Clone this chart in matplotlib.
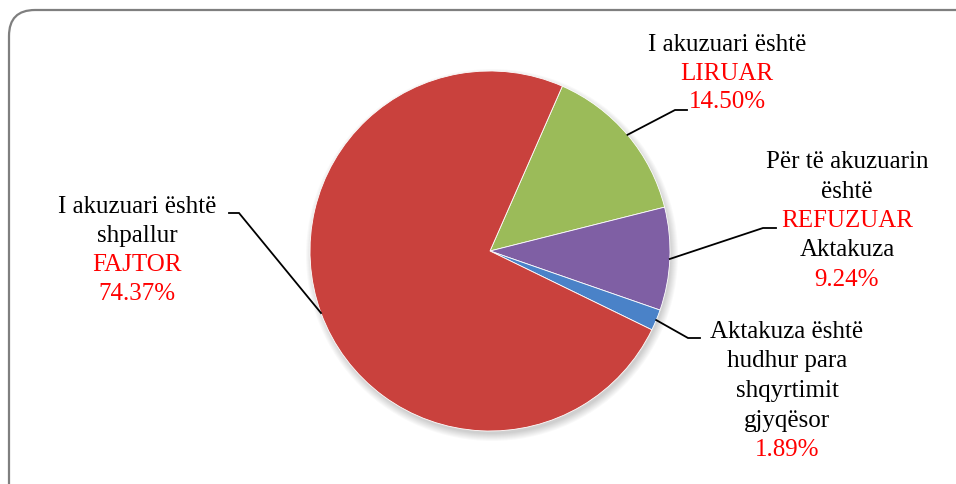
import numpy as np
import matplotlib.pyplot as plt
from matplotlib.patches import FancyBboxPatch, Circle

# Slice data (clockwise from the top-right)
shares = [14.50, 9.24, 1.89, 74.37]
colors = ['#9BBB59', '#7F5FA4', '#4A82C8', '#C9413D']
label_lines = [
    [("I akuzuari është", 'black'), ("LIRUAR", 'red'), ("14.50%", 'red')],
    [("Për të akuzuarin", 'black'), ("është", 'black'), ("REFUZUAR", 'red'),
     ("Aktakuza", 'black'), ("9.24%", 'red')],
    [("Aktakuza është", 'black'), ("hudhur para", 'black'), ("shqyrtimit", 'black'),
     ("gjyqësor", 'black'), ("1.89%", 'red')],
    [("I akuzuari është", 'black'), ("shpallur", 'black'), ("FAJTOR", 'red'),
     ("74.37%", 'red')],
]

W, H = 956, 484
fig = plt.figure(figsize=(W / 100, H / 100), dpi=100)
ax = fig.add_axes([0, 0, 1, 1])

# rounded frame, running off the right and bottom edges
frame = FancyBboxPatch((9, -30), 975, 474 + 30,
                       boxstyle="round,pad=0,rounding_size=26",
                       fc='white', ec='#7f7f7f', lw=1.6, zorder=0)
ax.add_patch(frame)

cx, cy, r = 490, H - 251, 180
start = 66.3

# soft shadow
for k in range(8):
    ax.add_patch(Circle((cx + 2, cy - 4), r + 6 - k, fc='black', alpha=0.025,
                        ec='none', zorder=1))

wedges, _ = ax.pie(shares, colors=colors, startangle=start, counterclock=False,
                   center=(cx, cy), radius=r, frame=True,
                   wedgeprops=dict(ec='white', lw=0.6))
for w in wedges:
    w.set_zorder(2)
ax.set_xlim(0, W)
ax.set_ylim(0, H)
ax.set_aspect('equal')
ax.axis('off')

# label layout: text centre x, first line y (px from top), elbow x pair, elbow y
layout = [
    dict(x=727, y=45, hx=(687, 675), hy=110),
    dict(x=847, y=162, hx=(776, 763), hy=228),
    dict(x=787, y=332, hx=(700, 688), hy=338),
    dict(x=137, y=207, hx=(229, 239), hy=213),
]
spacing = [28.5, 29.5, 29.5, 29]

font = 'Liberation Serif'
for w, lines, lay, sp in zip(wedges, label_lines, layout, spacing):
    for i, (txt, col) in enumerate(lines):
        ax.text(lay['x'], H - (lay['y'] + i * sp), txt, ha='center', va='center',
                color=col, fontsize=18, family=font, zorder=5)
    mid = np.deg2rad((w.theta1 + w.theta2) / 2)
    px, py = cx + r * np.cos(mid), cy + r * np.sin(mid)
    x0, x1 = lay['hx']
    ax.plot([x0, x1, px], [H - lay['hy'], H - lay['hy'], py], color='black',
            lw=1.3, zorder=4, solid_joinstyle='miter')

fig.savefig('out.png', dpi=100)
